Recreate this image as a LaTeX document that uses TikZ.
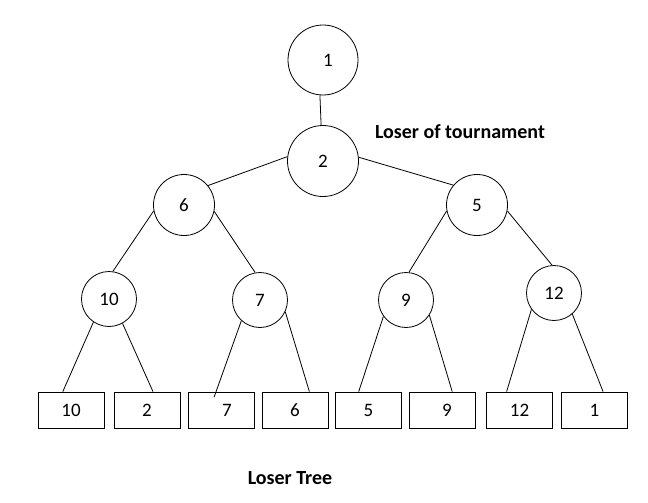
\documentclass[tikz,border=0pt]{standalone}
\usepackage{fontspec}
\setmainfont{Carlito}
\usepackage{tikz}
\usetikzlibrary{positioning}

\begin{document}
\begin{tikzpicture}[
      x=1pt, y=-1pt,
      every path/.style={line width=0.8pt},
      knot/.style={draw, circle, inner sep=0pt, font=\fontsize{19}{22}\selectfont},
      leaf/.style={draw, rectangle, minimum width=66pt, minimum height=36pt,
                   inner sep=0pt, font=\fontsize{19}{22}\selectfont},
      note/.style={font=\fontsize{20}{24}\selectfont\bfseries},
    ]
    \useasboundingbox (0,0) rectangle (648,503);

    % --- inner nodes ---
    \node[knot, minimum size=70pt] (c1) at (323,60) {\hspace{10pt}1};
    \node[knot, minimum size=71pt] (c2) at (323,161) {2};
    \node[knot, minimum size=61pt] (c6) at (184,205) {6};
    \node[knot, minimum size=61pt] (c5) at (477,205) {5};
    \node[knot, minimum size=55pt] (c10) at (109,299) {10};
    \node[knot, minimum size=55pt] (c7) at (260,300) {7};
    \node[knot, minimum size=55pt] (c9) at (406,300) {9};
    \node[knot, minimum size=55pt] (c12) at (554,293) {12};

    % --- leaves ---
    \node[leaf] (l1) at (71,410) {10};
    \node[leaf] (l2) at (147,410) {2};
    \node[leaf] (l3) at (221,410) {\hspace{12pt}7};
    \node[leaf] (l4) at (295,410) {6};
    \node[leaf] (l5) at (368.5,410) {5};
    \node[leaf] (l6) at (442,410) {\hspace{10pt}9};
    \node[leaf] (l7) at (519.5,410) {12\hspace{8pt}};
    \node[leaf] (l8) at (594.5,410) {1};

    % --- edges ---
    \draw (c1.265) -- (c2.93);
    \draw (c2.173) -- (c6.39);
    \draw (c2.6) -- (c5.140);
    \draw (c6.191) -- (c10.82);
    \draw (c6.348) -- (c7.100);
    \draw (c5.191) -- (c9.84);
    \draw (c5.349) -- (c12.94);
    \draw (c10.236) -- (l1.114);
    \draw (c10.299) -- (l2.72);
    \draw[shorten >=-6pt] (c7.228) -- (l3.105);
    \draw (c7.335) -- (l4.52);
    \draw (c9.216) -- (l5.118);
    \draw (c9.327) -- (l6.61);
    \draw (c12.216) -- (l7.125);
    \draw (c12.311) -- (l8.65);

    % --- labels ---
    \node[note] (top) at (460,132) {Loser of tournament};
    \node[note] (bottom) at (290,478) {Loser Tree};
  \end{tikzpicture}
\end{document}
